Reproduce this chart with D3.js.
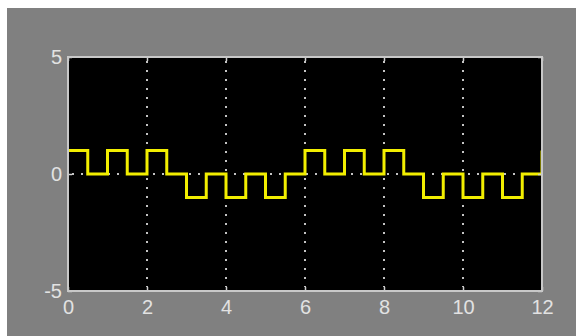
<!DOCTYPE html>
<html>
<head>
<meta charset="utf-8">
<script src="https://cdn.jsdelivr.net/npm/d3@7"></script>
<style>
  html, body { margin: 0; padding: 0; background: #ffffff; }
  svg { display: block; }
</style>
</head>
<body>
<svg id="chart" width="576" height="336"></svg>
<script>
// Step signal: times of each level change and the level held from that time on
const times  = [0, 0.5, 1, 1.5, 2, 2.5, 3, 3.5, 4, 4.5, 5, 5.5,
                6, 6.5, 7, 7.5, 8, 8.5, 9, 9.5, 10, 10.5, 11, 11.5, 12];
const levels = [1, 0, 1, 0, 1, 0, -1, 0, -1, 0, -1, 0,
                1, 0, 1, 0, 1, 0, -1, 0, -1, 0, -1, 0, 1];

const xTicks = [0, 2, 4, 6, 8, 10, 12];
const yTicks = [-5, 0, 5];
const xDomain = [0, 12];
const yDomain = [-5, 5];

const svg = d3.select("#chart");
const W = 576, H = 336;
const plot = { left: 68, top: 57, right: 542, bottom: 291 };

// window background
svg.append("rect").attr("x", 7).attr("y", 8).attr("width", W - 7).attr("height", H - 8)
  .attr("fill", "#808080");

const x = d3.scaleLinear().domain(xDomain).range([plot.left, plot.right]);
const y = d3.scaleLinear().domain(yDomain).range([plot.bottom, plot.top]);

// axes area
svg.append("rect")
  .attr("x", plot.left).attr("y", plot.top)
  .attr("width", plot.right - plot.left).attr("height", plot.bottom - plot.top)
  .attr("fill", "#000000");

// dotted grid
const grid = svg.append("g").attr("stroke", "#c4c4c4").attr("stroke-width", 2)
  .attr("stroke-dasharray", "2,7").attr("stroke-linecap", "butt");
grid.selectAll(".gx").data(xTicks.filter(t => t > xDomain[0] && t < xDomain[1])).join("line")
  .attr("x1", d => x(d)).attr("x2", d => x(d))
  .attr("y1", plot.top + 4).attr("y2", plot.bottom - 4);
grid.selectAll(".gy").data(yTicks.filter(t => t > yDomain[0] && t < yDomain[1])).join("line")
  .attr("y1", d => y(d)).attr("y2", d => y(d))
  .attr("x1", plot.left + 4).attr("x2", plot.right - 4);

// signal trace
const line = d3.line()
  .x((d, i) => x(times[i]))
  .y(d => y(d))
  .curve(d3.curveStepAfter);

svg.append("defs").append("clipPath").attr("id", "clip")
  .append("rect").attr("x", plot.left).attr("y", plot.top)
  .attr("width", plot.right - plot.left).attr("height", plot.bottom - plot.top);

svg.append("path")
  .datum(levels)
  .attr("clip-path", "url(#clip)")
  .attr("fill", "none")
  .attr("stroke", "#f2ee00")
  .attr("stroke-width", 3)
  .attr("stroke-linejoin", "miter")
  .attr("d", line);

// axes with inward ticks
const axisColor = "#d0d0d0";
const font = "'Liberation Sans', Arial, sans-serif";
const fmt = d => String(d);

function styleAxis(g, showLabels) {
  g.select(".domain").remove();
  g.selectAll(".tick line").attr("stroke", axisColor).attr("stroke-width", 1.5);
  g.selectAll(".tick text")
    .attr("fill", "#e2e2e2")
    .attr("font-family", font)
    .attr("font-size", 20)
    .attr("opacity", showLabels ? 1 : 0);
}

svg.append("g").attr("transform", `translate(0,${plot.bottom})`)
  .call(d3.axisBottom(x).tickValues(xTicks).tickFormat(fmt)
    .tickSizeInner(-4).tickSizeOuter(0).tickPadding(9))
  .call(g => styleAxis(g, true));

svg.append("g").attr("transform", `translate(0,${plot.top})`)
  .call(d3.axisTop(x).tickValues(xTicks).tickFormat("")
    .tickSizeInner(-4).tickSizeOuter(0))
  .call(g => styleAxis(g, false));

svg.append("g").attr("transform", `translate(${plot.left},0)`)
  .call(d3.axisLeft(y).tickValues(yTicks).tickFormat(fmt)
    .tickSizeInner(-4).tickSizeOuter(0).tickPadding(6))
  .call(g => styleAxis(g, true));

svg.append("g").attr("transform", `translate(${plot.right},0)`)
  .call(d3.axisRight(y).tickValues(yTicks).tickFormat("")
    .tickSizeInner(-4).tickSizeOuter(0))
  .call(g => styleAxis(g, false));

// axes box
svg.append("rect")
  .attr("x", plot.left).attr("y", plot.top)
  .attr("width", plot.right - plot.left).attr("height", plot.bottom - plot.top)
  .attr("fill", "none").attr("stroke", "#c8c8c8").attr("stroke-width", 2);
</script>
</body>
</html>
